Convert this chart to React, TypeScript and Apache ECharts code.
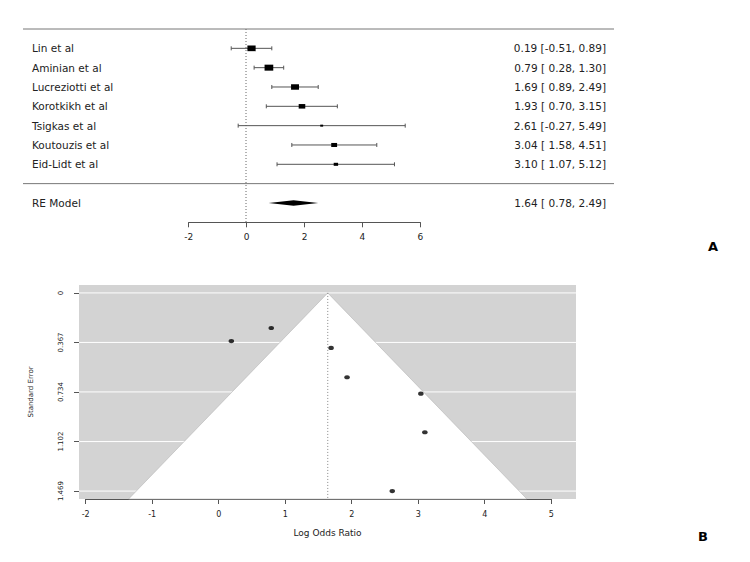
import React, { useEffect, useRef } from "react";
import * as echarts from "echarts";

// ---------- Panel A: forest plot data ----------
const studies = [
  "Lin et al",
  "Aminian et al",
  "Lucreziotti et al",
  "Korotkikh et al",
  "Tsigkas et al",
  "Koutouzis et al",
  "Eid-Lidt et al",
];
const estimates = [0.19, 0.79, 1.69, 1.93, 2.61, 3.04, 3.1];
const ciLower = [-0.51, 0.28, 0.89, 0.7, -0.27, 1.58, 1.07];
const ciUpper = [0.89, 1.3, 2.49, 3.15, 5.49, 4.51, 5.12];
// random-effects weights (%), estimated from the square sizes
const studyWeights = [18.6, 19.7, 17.9, 14.8, 6.2, 13.1, 9.7];
const reLabel = "RE Model";
const reEstimate = 1.64;
const reLower = 0.78;
const reUpper = 2.49;

// ---------- Panel B: funnel plot data ----------
const standardErrors = [0.357, 0.26, 0.408, 0.625, 1.469, 0.747, 1.033];
const seTickValues = [0, 0.367, 0.734, 1.102, 1.469];
const seTickLabels = ["0", "0.367", "0.734", "1.102", "1.469"];

const FONT = "DejaVu Sans";
const n = studies.length;
const rows = studies.map((_, i) => n - i);
const reRow = -1;
const topRow = n + 1;
const sepRow = 0;
const axisRow = -2;
const seStep = 0.36725;
const funnelSeMax = 1.5278;

const fmt = (x: number) => x.toFixed(2);
const pad5 = (s: string) => (s.length < 5 ? " " + s : s);
const annot = (e: number, l: number, u: number) =>
  `${fmt(e)} [${pad5(fmt(l))}, ${fmt(u)}]`;

const rowName = (v: number) => {
  const r = Math.round(v);
  if (r >= 1 && r <= n) return studies[n - r];
  if (r === reRow) return reLabel;
  return "";
};
const rowAnnot = (v: number) => {
  const r = Math.round(v);
  if (r >= 1 && r <= n) {
    const i = n - r;
    return annot(estimates[i], ciLower[i], ciUpper[i]);
  }
  if (r === reRow) return annot(reEstimate, reLower, reUpper);
  return "";
};

export default function App() {
  const ref = useRef<HTMLDivElement>(null);
  useEffect(() => {
    if (!ref.current) return;
    const chart = echarts.init(ref.current, undefined, { renderer: "svg" });
    const wMin = Math.min(...studyWeights);
    const wMax = Math.max(...studyWeights);
    const lineCol = "#555";
    const textCol = "#222";

    const option: any = {
      animation: false,
      backgroundColor: "#fff",
      textStyle: { fontFamily: FONT },
      grid: [
        { left: 23, right: 136, top: 29, bottom: 339.7 },
        { left: 188.7, right: 329.7, top: 212, bottom: 339.7 },
        { left: 79, right: 174, top: 285, bottom: 63 },
        { left: 85.7, right: 198.8, top: 489, bottom: 63 },
        { left: 79, right: 174, top: 292.9, bottom: 70.9 },
      ],
      xAxis: [
        { gridIndex: 0, type: "value", min: -7.69, max: 12.69, show: false },
        {
          gridIndex: 1,
          type: "value",
          min: -2,
          max: 6,
          interval: 2,
          position: "bottom",
          axisLine: { show: true, onZero: false, lineStyle: { color: lineCol, width: 1 } },
          axisTick: { show: true, length: 5, lineStyle: { color: lineCol } },
          axisLabel: { fontSize: 9, margin: 10, color: textCol, fontFamily: FONT },
          splitLine: { show: false },
        },
        {
          gridIndex: 2,
          type: "value",
          min: -2.1008,
          max: 5.373,
          axisLine: { show: false, onZero: false },
          axisTick: { show: false },
          axisLabel: { show: false },
          splitLine: { show: false },
          name: "Log Odds Ratio",
          nameLocation: "middle",
          nameGap: 29,
          nameTextStyle: { fontSize: 9, color: textCol, fontFamily: FONT },
        },
        {
          gridIndex: 3,
          type: "value",
          min: -2,
          max: 5,
          interval: 1,
          position: "bottom",
          axisLine: { show: true, onZero: false, lineStyle: { color: lineCol, width: 1 } },
          axisTick: { show: true, length: 5, lineStyle: { color: lineCol } },
          axisLabel: { fontSize: 8, margin: 11, color: textCol, fontFamily: FONT },
          splitLine: { show: false },
        },
        { gridIndex: 4, type: "value", min: -2.1008, max: 5.373, show: false },
      ],
      yAxis: [
        {
          gridIndex: 0,
          type: "value",
          min: axisRow,
          max: topRow,
          interval: 1,
          position: "left",
          axisLine: { show: false, onZero: false },
          axisTick: { show: false },
          splitLine: { show: false },
          axisLabel: {
            inside: true,
            margin: 9,
            formatter: rowName,
            fontSize: 10.5,
            color: textCol,
            fontFamily: FONT,
          },
        },
        {
          gridIndex: 0,
          type: "value",
          min: axisRow,
          max: topRow,
          interval: 1,
          position: "right",
          axisLine: { show: false, onZero: false },
          axisTick: { show: false },
          splitLine: { show: false },
          axisLabel: {
            inside: true,
            margin: 8,
            formatter: rowAnnot,
            fontSize: 10.5,
            color: textCol,
            fontFamily: FONT,
          },
        },
        { gridIndex: 1, type: "value", min: 0, max: 1, show: false },
        {
          gridIndex: 2,
          type: "value",
          min: -0.0588,
          max: funnelSeMax,
          inverse: true,
          show: false,
        },
        { gridIndex: 3, type: "value", min: 0, max: 1, show: false },
        {
          gridIndex: 4,
          type: "value",
          min: 0,
          max: 1.469,
          interval: seStep,
          inverse: true,
          position: "left",
          axisLine: { show: true, onZero: false, lineStyle: { color: lineCol, width: 1 } },
          axisTick: { show: true, length: 5, lineStyle: { color: lineCol } },
          splitLine: { show: false },
          axisLabel: {
            rotate: 90,
            margin: 15,
            fontSize: 7,
            color: textCol,
            fontFamily: FONT,
            formatter: (v: number) => seTickLabels[Math.round(v / seStep)] ?? "",
          },
          name: "Standard Error",
          nameLocation: "middle",
          nameRotate: 90,
          nameGap: 45,
          nameTextStyle: { fontSize: 7, color: textCol, fontFamily: FONT },
        },
      ],
      series: [
        // forest frame: horizontal rules and the dotted null line
        {
          type: "custom",
          xAxisIndex: 0,
          yAxisIndex: 0,
          silent: true,
          data: [[0, topRow]],
          renderItem: (params: any, api: any) => {
            const cs = params.coordSys;
            const yTop = api.coord([0, topRow])[1];
            const ySep = api.coord([0, sepRow])[1];
            const p0 = api.coord([0, topRow]);
            const p1 = api.coord([0, axisRow]);
            return {
              type: "group",
              children: [
                {
                  type: "line",
                  shape: { x1: cs.x, y1: yTop, x2: cs.x + cs.width, y2: yTop },
                  style: { stroke: "#777", lineWidth: 1 },
                },
                {
                  type: "line",
                  shape: { x1: cs.x, y1: ySep, x2: cs.x + cs.width, y2: ySep },
                  style: { stroke: "#777", lineWidth: 1 },
                },
                {
                  type: "line",
                  shape: { x1: p0[0], y1: p0[1], x2: p1[0], y2: p1[1] },
                  style: { stroke: "#666", lineWidth: 1, lineDash: [1, 2] },
                },
              ],
            };
          },
        },
        // study CIs and squares
        {
          type: "custom",
          xAxisIndex: 0,
          yAxisIndex: 0,
          silent: true,
          data: studies.map((_, i) => [
            estimates[i],
            rows[i],
            ciLower[i],
            ciUpper[i],
            studyWeights[i],
          ]),
          renderItem: (params: any, api: any) => {
            const est = api.value(0);
            const row = api.value(1);
            const lo = api.value(2);
            const hi = api.value(3);
            const w = api.value(4);
            const pLo = api.coord([lo, row]);
            const pHi = api.coord([hi, row]);
            const pE = api.coord([est, row]);
            const ps = 0.5 + (w - wMin) / (wMax - wMin);
            const sw = 5.8 * ps;
            const sh = 4.0 * ps;
            const st = { stroke: "#555", lineWidth: 1 };
            return {
              type: "group",
              children: [
                { type: "line", shape: { x1: pLo[0], y1: pLo[1], x2: pHi[0], y2: pHi[1] }, style: st },
                { type: "line", shape: { x1: pLo[0], y1: pLo[1] - 2, x2: pLo[0], y2: pLo[1] + 2 }, style: st },
                { type: "line", shape: { x1: pHi[0], y1: pHi[1] - 2, x2: pHi[0], y2: pHi[1] + 2 }, style: st },
                {
                  type: "rect",
                  shape: { x: pE[0] - sw / 2, y: pE[1] - sh / 2, width: sw, height: sh },
                  style: { fill: "#000" },
                },
              ],
            };
          },
        },
        // RE model diamond
        {
          type: "custom",
          xAxisIndex: 0,
          yAxisIndex: 0,
          silent: true,
          data: [[reEstimate, reRow, reLower, reUpper]],
          renderItem: (params: any, api: any) => {
            const est = api.value(0);
            const row = api.value(1);
            const pL = api.coord([api.value(2), row]);
            const pU = api.coord([api.value(3), row]);
            const pE = api.coord([est, row]);
            const h = 2.8;
            return {
              type: "polygon",
              shape: {
                points: [
                  [pL[0], pL[1]],
                  [pE[0], pE[1] - h],
                  [pU[0], pU[1]],
                  [pE[0], pE[1] + h],
                ],
              },
              style: { fill: "#000" },
            };
          },
        },
        // funnel background, grid lines, white funnel region, reference line
        {
          type: "custom",
          xAxisIndex: 2,
          yAxisIndex: 3,
          silent: true,
          data: [[reEstimate, 0]],
          renderItem: (params: any, api: any) => {
            const cs = params.coordSys;
            const est = api.value(0);
            const apex = api.coord([est, 0]);
            const bl = api.coord([est - 1.96 * funnelSeMax, funnelSeMax]);
            const br = api.coord([est + 1.96 * funnelSeMax, funnelSeMax]);
            const bottom = api.coord([est, funnelSeMax]);
            const children: any[] = [
              {
                type: "rect",
                shape: { x: cs.x, y: cs.y, width: cs.width, height: cs.height },
                style: { fill: "#d3d3d3" },
              },
            ];
            seTickValues.forEach((v) => {
              const y = api.coord([est, v])[1];
              children.push({
                type: "line",
                shape: { x1: cs.x, y1: y, x2: cs.x + cs.width, y2: y },
                style: { stroke: "#fff", lineWidth: 1 },
              });
            });
            children.push({
              type: "polygon",
              shape: { points: [bl, apex, br] },
              style: { fill: "#fff", stroke: "#b5b5b5", lineWidth: 0.6 },
            });
            children.push({
              type: "line",
              shape: { x1: apex[0], y1: apex[1], x2: bottom[0], y2: bottom[1] },
              style: { stroke: "#888", lineWidth: 1, lineDash: [1, 2] },
            });
            return { type: "group", children };
          },
        },
        {
          type: "scatter",
          xAxisIndex: 2,
          yAxisIndex: 3,
          z: 5,
          silent: true,
          symbol: "path://M0,5A5,5,0,1,1,10,5A5,5,0,1,1,0,5Z",
          symbolSize: [5.5, 4.2],
          itemStyle: { color: "#000" },
          data: standardErrors.map((se, i) => [estimates[i], se]),
        },
      ],
      graphic: [
        {
          type: "text",
          x: 713,
          y: 246,
          style: {
            text: "A",
            font: `bold 13px "${FONT}"`,
            fill: "#000",
            align: "center",
            verticalAlign: "middle",
          },
        },
        {
          type: "text",
          x: 703,
          y: 536,
          style: {
            text: "B",
            font: `bold 13px "${FONT}"`,
            fill: "#000",
            align: "center",
            verticalAlign: "middle",
          },
        },
      ],
    };
    chart.setOption(option);
    return () => chart.dispose();
  }, []);
  return (
    <div
      ref={ref}
      style={{ position: "absolute", left: 0, top: 0, width: 750, height: 562 }}
    />
  );
}
